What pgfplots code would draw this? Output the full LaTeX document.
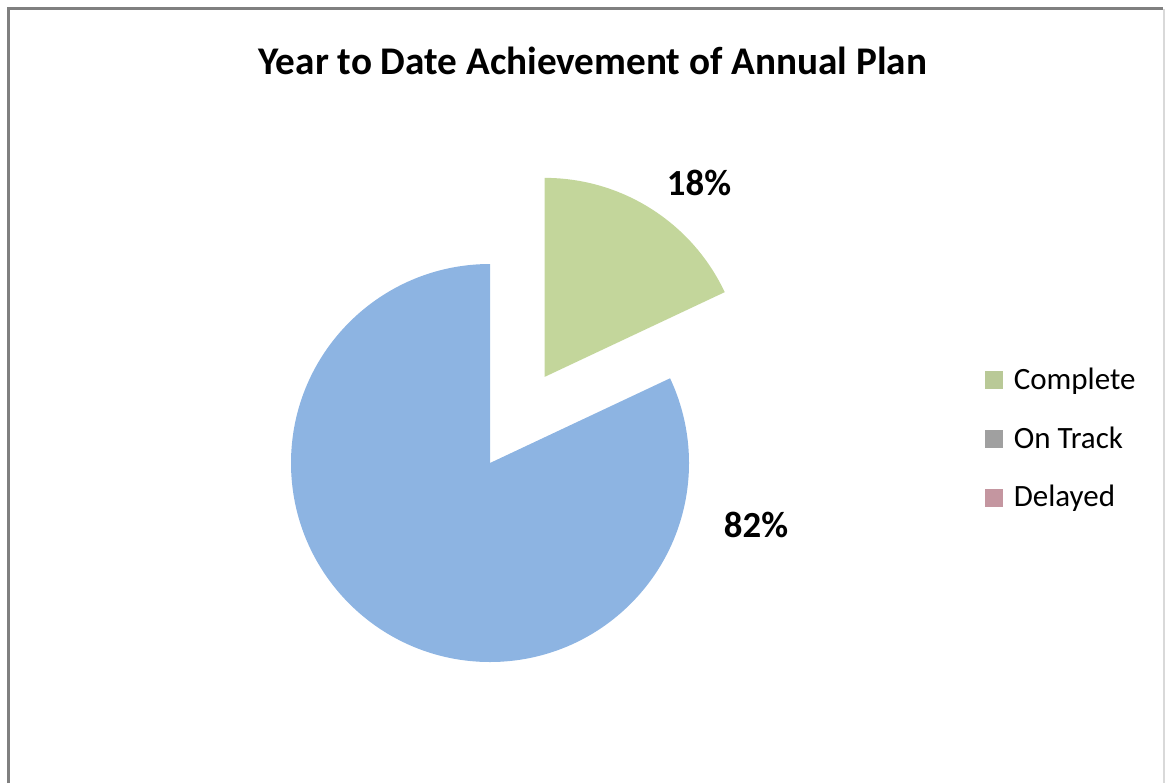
\documentclass[border=0pt]{standalone}
\usepackage{pgfplots}
\usepackage{pgfplotstable}
\usepackage{fontspec}
\setmainfont{Carlito}
\pgfplotsset{compat=1.18}

\definecolor{pieblue}{RGB}{141,180,226}
\definecolor{piegreen}{RGB}{195,214,155}
\definecolor{ontrack}{RGB}{160,160,160}
\definecolor{delayed}{RGB}{196,150,160}
\definecolor{framegray}{RGB}{128,128,128}

% share of the annual plan, in percent
\pgfplotstableread{
name value
Complete 18
OnTrack 0
Delayed 0
Other 82
}\piedata
\pgfplotstablegetelem{0}{value}\of\piedata \let\vcomplete\pgfplotsretval
\pgfplotstablegetelem{3}{value}\of\piedata \let\vother\pgfplotsretval
\pgfmathsetmacro{\aone}{90-3.6*\vcomplete}
\pgfmathsetmacro{\amid}{90-1.8*\vcomplete}
\pgfmathsetmacro{\aend}{\aone+360}
\pgfmathsetmacro{\gx}{490+102*cos(\amid)}
\pgfmathsetmacro{\gy}{320+102*sin(\amid)}
\pgfmathsetmacro{\gtop}{\gy+199}

\begin{document}
\begin{tikzpicture}
\begin{axis}[
    width=584.5pt, height=391.5pt, scale only axis,
    xmin=0, xmax=1169, ymin=0, ymax=783,
    enlargelimits=false, hide axis, clip=false,
    legend cell align=left,
    legend style={at={(axis cs:985,344)}, anchor=west, draw=none, fill=none,
        inner xsep=0pt, inner ysep=0pt,
        font=\fontsize{15.5}{18}\selectfont, row sep=13pt,
        /tikz/every even column/.append style={column sep=0pt}},
    legend image code/.code={\fill[#1, draw=none] (0pt,-4.5pt) rectangle (9pt,4.5pt); \path (12pt,0pt);},
]
\coordinate (ll) at (axis cs:0,0);
\coordinate (ur) at (axis cs:1169,783);
% frame
\draw[framegray, line width=1.5pt] (axis cs:8,0) -- (axis cs:8,774) -- (axis cs:1163,774);
\draw[gray!30, line width=1pt] (axis cs:1164,774) -- (axis cs:1164,0);
% slices: centre (490,320), radius 199, Complete exploded by 102
\fill[pieblue] (axis cs:490,320) -- (axis cs:490,519)
    arc[start angle=90, end angle=\aend, radius=199] -- cycle;
\fill[piegreen] (axis cs:\gx,\gy) -- (axis cs:\gx,\gtop)
    arc[start angle=90, end angle=\aone, radius=199] -- cycle;
\node[font=\fontsize{18.4}{21}\selectfont\bfseries, anchor=base] at (axis cs:699,588) {\vcomplete\%};
\node[font=\fontsize{18.4}{21}\selectfont\bfseries, anchor=base] at (axis cs:756,246) {\vother\%};
\node[font=\fontsize{19.6}{23}\selectfont\bfseries, anchor=base] at (axis cs:593,708) {Year to Date Achievement of Annual Plan};
\addlegendimage{fill=piegreen!85!gray}
\addlegendentry{Complete}
\addlegendimage{fill=ontrack}
\addlegendentry{On Track}
\addlegendimage{fill=delayed}
\addlegendentry{Delayed}
\end{axis}
\pgfresetboundingbox
\path[use as bounding box] (ll) rectangle (ur);
\end{tikzpicture}
\end{document}
